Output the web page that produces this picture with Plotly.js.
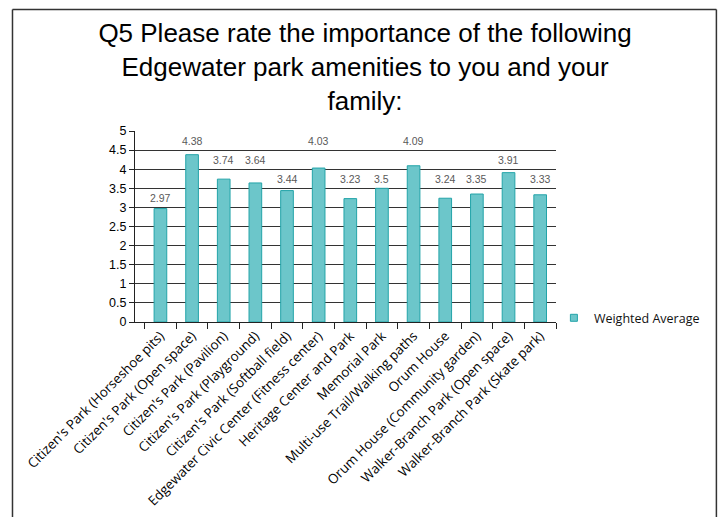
<!DOCTYPE html>
<html>
<head>
<meta charset="utf-8">
<script src="https://cdn.plot.ly/plotly-3.0.1.min.js"></script>
<style>
html,body{margin:0;padding:0;background:#fff;}
#chart{width:720px;height:517px;}
</style>
</head>
<body>
<div id="chart"></div>
<script>
const categories = [
  "Citizen's Park (Horseshoe pits)",
  "Citizen's Park (Open space)",
  "Citizen's Park (Pavilion)",
  "Citizen's Park (Playground)",
  "Citizen's Park (Softball field)",
  "Edgewater Civic Center (Fitness center)",
  "Heritage Center and Park",
  "Memorial Park",
  "Multi-use Trail/Walking paths",
  "Orum House",
  "Orum House (Community garden)",
  "Walker-Branch Park (Open space)",
  "Walker-Branch Park (Skate park)"
];
const weightedAverage = [2.97, 4.38, 3.74, 3.64, 3.44, 4.03, 3.23, 3.5, 4.09, 3.24, 3.35, 3.91, 3.33];
const seriesName = "Weighted Average";
const yTicks = [0, 0.5, 1, 1.5, 2, 2.5, 3, 3.5, 4, 4.5, 5];
const titleText = "Q5 Please rate the importance of the following<br>Edgewater park amenities to you and your<br>family:";

const fillColor = "#6cc6ca";
const edgeColor = "#23a4a9";

const bar = {
  type: "bar",
  x: categories,
  y: weightedAverage,
  name: seriesName,
  showlegend: false,
  marker: {color: fillColor, line: {color: edgeColor, width: 1}},
  hoverinfo: "x+y"
};
const legendProxy = {
  type: "scatter",
  mode: "markers",
  x: [categories[0]],
  y: [null],
  name: seriesName,
  marker: {symbol: "square", size: 7, color: fillColor, line: {color: edgeColor, width: 1}},
  hoverinfo: "skip"
};

// Excel-style labels: centred in the gridline band just above each bar
const annotations = categories.map((c, i) => ({
  x: c,
  y: Math.ceil(weightedAverage[i] * 2) / 2 + 0.25,
  xref: "x", yref: "y",
  text: String(weightedAverage[i]),
  showarrow: false,
  font: {family: "Liberation Sans, Arial, sans-serif", size: 10.5, color: "#595959"}
}));

const layout = {
  width: 720,
  height: 517,
  margin: {l: 135, r: 164, t: 131, b: 195, autoexpand: false},
  paper_bgcolor: "#ffffff",
  plot_bgcolor: "#ffffff",
  title: {
    text: titleText,
    x: 0.507, xanchor: "center",
    y: 0.918, yanchor: "middle",
    font: {family: "Liberation Sans, Arial, sans-serif", size: 26, color: "#000"}
  },
  bargap: 0.6,
  xaxis: {
    type: "category",
    tickangle: -45,
    tickson: "boundaries",
    ticks: "outside",
    ticklen: 6,
    tickcolor: "#222",
    showline: true,
    linecolor: "#222",
    linewidth: 1,
    showgrid: false,
    tickfont: {family: "Open Sans, Noto Sans, sans-serif", size: 13.3, color: "#000"},
    automargin: false
  },
  yaxis: {
    range: [0, 5],
    tickvals: yTicks,
    ticktext: yTicks.map(String),
    ticks: "outside",
    ticklen: 5,
    tickcolor: "#222",
    showline: true,
    linecolor: "#222",
    linewidth: 1,
    showgrid: true,
    gridcolor: "#333333",
    gridwidth: 1,
    zeroline: false,
    tickfont: {family: "Liberation Sans, Arial, sans-serif", size: 12.5, color: "#000"},
    automargin: false
  },
  showlegend: true,
  legend: {
    x: 0.995, xanchor: "left",
    y: 0.02, yanchor: "middle",
    bgcolor: "rgba(0,0,0,0)",
    font: {family: "Open Sans, Noto Sans, sans-serif", size: 12.5, color: "#111"},
    itemwidth: 30
  },
  annotations: annotations,
  shapes: [
    {type: "line", xref: "paper", yref: "paper", x0: -0.291, x1: -0.291, y0: 1.636, y1: -1.2, line: {color: "#333", width: 1.5}},
    {type: "line", xref: "paper", yref: "paper", x0: 1.381, x1: 1.381, y0: 1.636, y1: -1.2, line: {color: "#333", width: 1.5}},
    {type: "line", xref: "paper", yref: "paper", x0: -0.291, x1: 1.381, y0: 1.636, y1: 1.636, line: {color: "#333", width: 1.5}}
  ]
};

Plotly.newPlot("chart", [bar, legendProxy], layout, {displayModeBar: false, staticPlot: true});
</script>
</body>
</html>
